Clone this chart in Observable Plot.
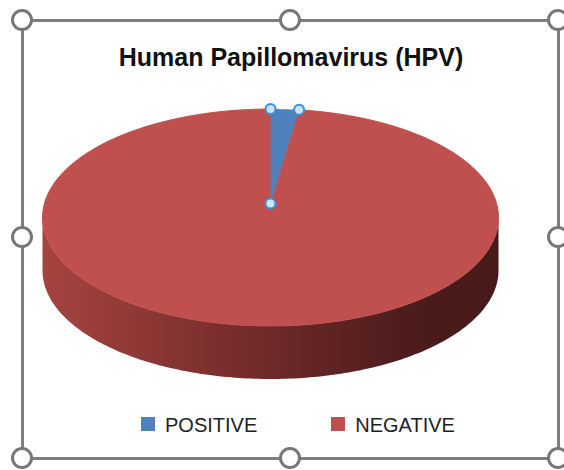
<!DOCTYPE html>
<html>
<head>
<meta charset="utf-8">
<script src="https://cdn.jsdelivr.net/npm/d3@7"></script>
<script src="https://cdn.jsdelivr.net/npm/@observablehq/plot@0.6"></script>
<style>
  html, body { margin: 0; padding: 0; background: #fff; overflow: hidden; }
  #wrap { position: relative; width: 564px; height: 470px; font-family: "Liberation Sans", Arial, sans-serif; }
  #frame { position: absolute; left: 20.5px; top: 18.5px; width: 539px; height: 441px; border: 3px solid #7d7d7d; box-sizing: border-box; }
  #title { position: absolute; left: 20px; width: 542px; top: 45px; text-align: center; font-weight: bold; font-size: 25px; line-height: 25px; color: #111; }
  #chart { position: absolute; left: 0; top: 90px; }
  #legend { position: absolute; left: 141px; top: 415px; display: flex; font-size: 20px; line-height: 20px; color: #222; }
  .item { display: flex; align-items: flex-start; margin-right: 74px; }
  .swatch { width: 14px; height: 14px; margin-top: 2px; margin-right: 10px; }
  .handle { position: absolute; width: 16px; height: 16px; border: 3px solid #777; border-radius: 50%; background: #fff; transform: translate(-50%, -50%); }
</style>
</head>
<body>
<div id="wrap">
  <div id="frame"></div>
  <div id="title"></div>
  <div id="chart"></div>
  <div id="legend"></div>
</div>
<script>
// ---- data ----
const title = "Human Papillomavirus (HPV)";
const categories = ["POSITIVE", "NEGATIVE"];
const values = [2, 98];          // percent of cases
const colors = ["#4f81bd", "#c0504d"];

// ---- geometry helpers (unit disk, y up) ----
const pivot = {x: 0, y: 0.129};   // perspective position of the pie centre
const depth = 0.4885;             // thickness of the 3-D side
const step = Math.PI / 180;

const arcs = d3.pie().sort(null)(values);
const rim = a => ({x: Math.sin(a), y: Math.cos(a)});

const slices = arcs.map((d, i) => {
  const pts = [{...pivot}];
  for (let a = d.startAngle; a < d.endAngle; a += step) pts.push(rim(a));
  pts.push(rim(d.endAngle));
  pts.push({...pivot});
  return pts.map(p => ({...p, cat: categories[i]}));
});

// side band (front half of the disk)
const side = [];
for (let a = Math.PI / 2; a <= 3 * Math.PI / 2 + 1e-9; a += step) side.push(rim(a));
const sideBottom = side.slice().reverse().map(p => ({x: p.x, y: p.y - depth}));
const sidePoly = side.concat(sideBottom);

const pos = arcs[0];
const handles = [pivot, rim(pos.startAngle), rim(pos.endAngle)];

// ---- title ----
document.getElementById("title").textContent = title;

// ---- plot ----
const plot = Plot.plot({
  width: 564,
  height: 310,
  margin: 0,
  style: {background: "transparent", overflow: "visible"},
  x: {domain: [-1, 1], range: [42, 498], axis: null},
  y: {domain: [-1.6, 1.1], range: [300.6, 7.65], axis: null},
  marks: [
    Plot.line(sidePoly, {x: "x", y: "y", fill: "url(#sideGrad)", stroke: "none", curve: "linear"}),
    Plot.line(slices[1], {x: "x", y: "y", fill: colors[1], stroke: colors[1], strokeWidth: 1, curve: "linear"}),
    Plot.line(slices[0], {x: "x", y: "y", fill: colors[0], stroke: "none", curve: "linear"}),
    Plot.dot(handles, {x: "x", y: "y", r: 5, fill: "#c9e6f9", stroke: "#3b8de0", strokeWidth: 2})
  ]
});

const defs = d3.select(plot).insert("defs", ":first-child");
const g = defs.append("linearGradient").attr("id", "sideGrad")
  .attr("x1", "0").attr("x2", "1").attr("y1", "0").attr("y2", "0");
g.append("stop").attr("offset", "0").attr("stop-color", "#a5443f");
g.append("stop").attr("offset", "0.45").attr("stop-color", "#742b2b");
g.append("stop").attr("offset", "0.8").attr("stop-color", "#4d1c1c");
g.append("stop").attr("offset", "1").attr("stop-color", "#471a1a");

document.getElementById("chart").appendChild(plot);

// ---- legend ----
const legend = d3.select("#legend");
categories.forEach((c, i) => {
  const it = legend.append("div").attr("class", "item");
  it.append("div").attr("class", "swatch").style("background", colors[i]);
  it.append("span").text(c);
});

// ---- selection handles of the chart area ----
const wrap = d3.select("#wrap");
[[22, 20], [290, 20], [558, 20], [22, 237], [558, 237], [22, 458], [290, 458], [558, 458]]
  .forEach(([x, y]) => wrap.append("div").attr("class", "handle").style("left", x + "px").style("top", y + "px"));
</script>
</body>
</html>
